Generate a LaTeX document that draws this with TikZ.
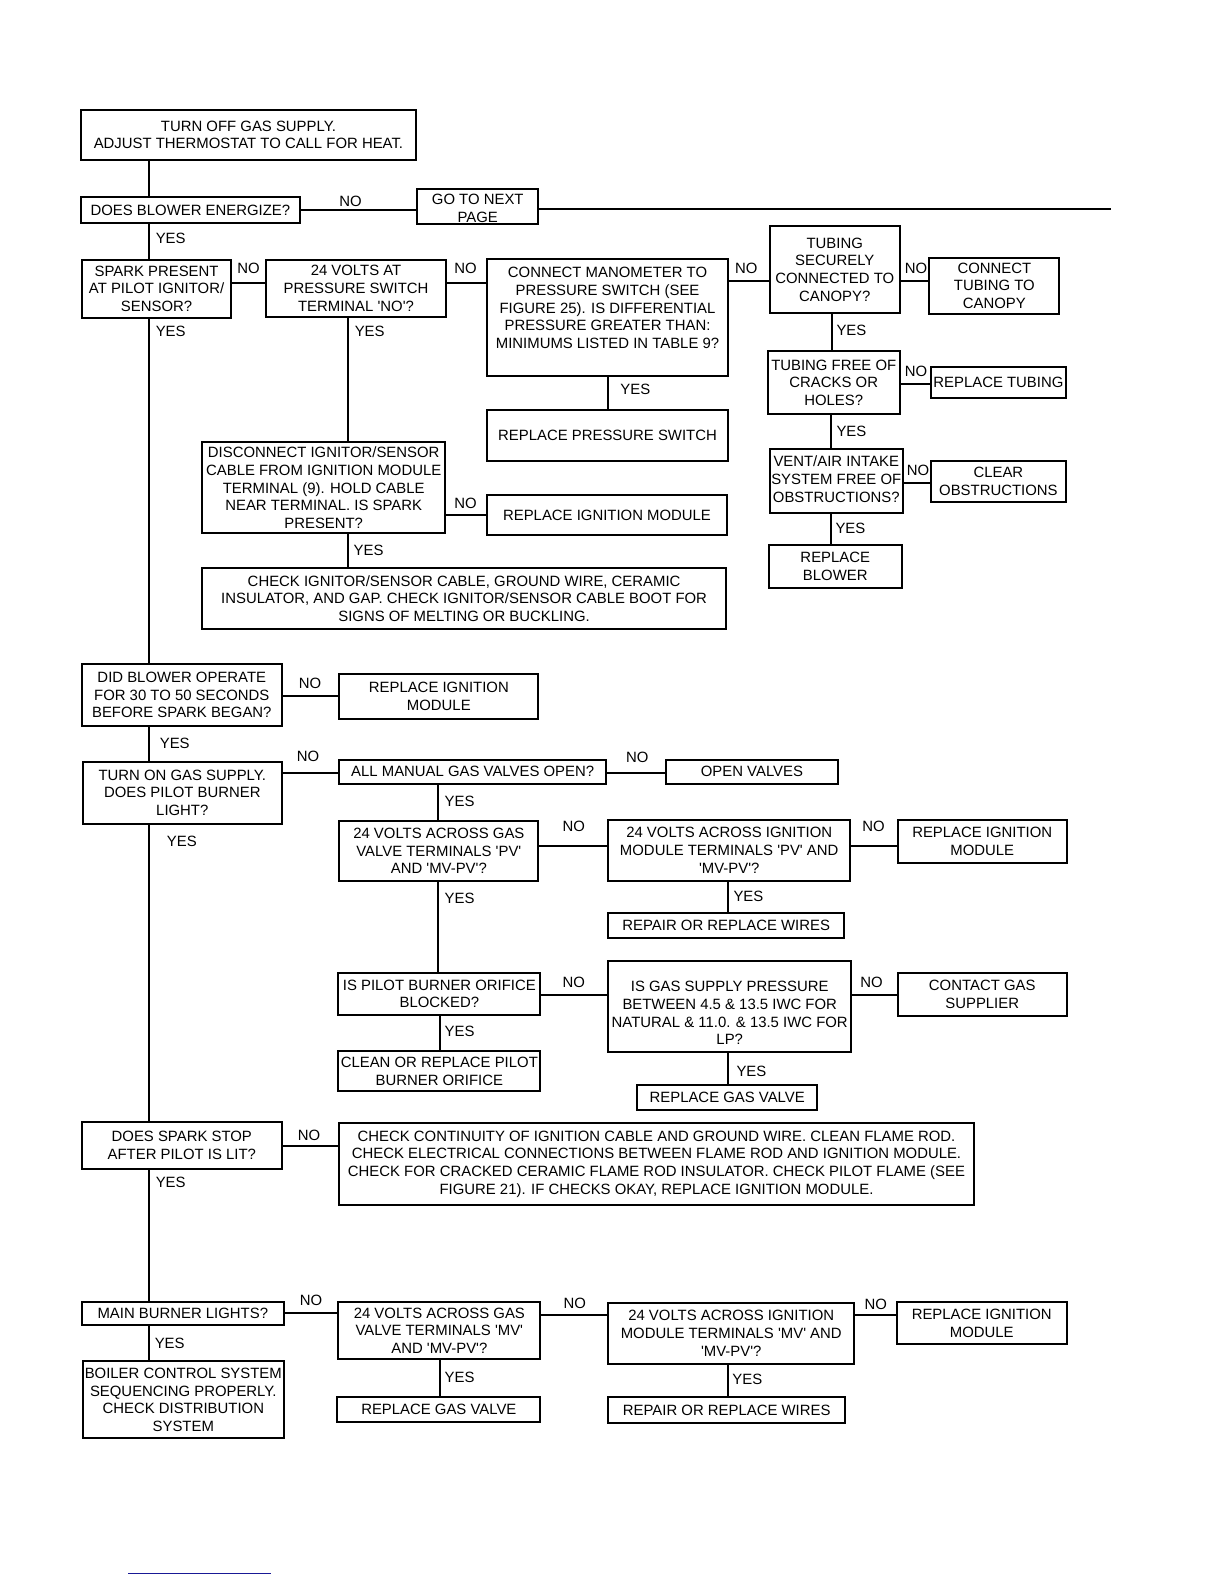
\documentclass[tikz,border=0pt]{standalone}
\usepackage{fontspec}
\setmainfont{Liberation Sans}
\usetikzlibrary{calc}
\newcommand\sqt{\textquotesingle}
\tikzset{
  box/.style={draw, line width=2pt, inner sep=0pt, outer sep=0pt, rectangle},
  txt/.style={align=center, inner sep=0pt, font=\fontsize{14.9}{17.7}\selectfont},
  lbl/.style={inner sep=0pt, font=\fontsize{14.9}{17.7}\selectfont},
  ln/.style={line width=2pt},
}
% #1 text shift (down), #2 name, #3 x1, #4 y1, #5 x2, #6 y2, #7 text
\newcommand\bx[7][0]{%
  \node[box, minimum width={1.01*(#5-#3)}, minimum height={1.01*(#6-#4)}] (#2) at ({(#3+#5)/2},{(#4+#6)/2}) {};
  \node[txt] (#2-t) at ({(#3+#5)/2},{(#4+#6)/2+(#1)}) {#7};
}
\begin{document}
\begin{tikzpicture}[x=1.01pt,y=-1.01pt]
\useasboundingbox (0,0) rectangle (1211.88,1568.32);

% boxes
\bx{start}{80}{109}{412}{158}{TURN OFF GAS SUPPLY.\\ADJUST THERMOSTAT TO CALL FOR HEAT.}
\bx{blower}{80}{195}{297}{221}{DOES BLOWER ENERGIZE?}
\bx[2]{next}{413}{187}{533}{222}{GO TO NEXT\\PAGE}
\bx{spark}{81}{257}{229}{315}{SPARK PRESENT\\AT PILOT IGNITOR/\\SENSOR?}
\bx{psw}{263}{257}{442}{314}{24 VOLTS AT\\PRESSURE SWITCH\\TERMINAL \sqt NO\sqt ?}
\bx[-9]{man}{482}{256}{721}{372}{CONNECT MANOMETER TO\\PRESSURE SWITCH (SEE\\FIGURE 25). IS DIFFERENTIAL\\PRESSURE GREATER THAN:\\MINIMUMS LISTED IN TABLE 9?}
\bx{tsec}{762}{224}{891}{310}{TUBING\\SECURELY\\CONNECTED TO\\CANOPY?}
\bx{ctub}{920}{255}{1049}{311}{CONNECT\\TUBING TO\\CANOPY}
\bx{tfree}{760}{348}{891}{410}{TUBING FREE OF\\CRACKS OR\\HOLES?}
\bx{rtub}{922}{363}{1055}{394}{REPLACE TUBING}
\bx[-2]{vent}{762}{445}{894}{508}{VENT/AIR INTAKE\\SYSTEM FREE OF\\OBSTRUCTIONS?}
\bx{clr}{922}{456}{1055}{497}{CLEAR\\OBSTRUCTIONS}
\bx{rblow}{761}{540}{893}{582}{REPLACE\\BLOWER}
\bx{rpsw}{482}{406}{721}{456}{REPLACE PRESSURE SWITCH}
\bx{disc}{200}{438}{441}{528}{DISCONNECT IGNITOR/SENSOR\\CABLE FROM IGNITION MODULE\\TERMINAL (9). HOLD CABLE\\NEAR TERMINAL. IS SPARK\\PRESENT?}
\bx{rimA}{482}{490}{720}{530}{REPLACE IGNITION MODULE}
\bx{chk}{200}{562}{719}{623}{CHECK IGNITOR/SENSOR CABLE, GROUND WIRE, CERAMIC\\INSULATOR, AND GAP. CHECK IGNITOR/SENSOR CABLE BOOT FOR\\SIGNS OF MELTING OR BUCKLING.}
\bx{did}{81}{657}{279}{719}{DID BLOWER OPERATE\\FOR 30 TO 50 SECONDS\\BEFORE SPARK BEGAN?}
\bx{rimB}{336}{667}{533}{712}{REPLACE IGNITION\\MODULE}
\bx{ton}{82}{754}{279}{816}{TURN ON GAS SUPPLY.\\DOES PILOT BURNER\\LIGHT?}
\bx{allm}{336}{752}{600}{776}{ALL MANUAL GAS VALVES OPEN?}
\bx{opv}{659}{752}{830}{776}{OPEN VALVES}
\bx{gpv}{336}{813}{533}{872}{24 VOLTS ACROSS GAS\\VALVE TERMINALS \sqt PV\sqt\\AND \sqt MV-PV\sqt ?}
\bx{ipv}{602}{812}{842}{872}{24 VOLTS ACROSS IGNITION\\MODULE TERMINALS \sqt PV\sqt{} AND\\\sqt MV-PV\sqt ?}
\bx{rimC}{889}{812}{1056}{854}{REPLACE IGNITION\\MODULE}
\bx{rwA}{602}{904}{836}{929}{REPAIR OR REPLACE WIRES}
\bx{orf}{335}{963}{535}{1005}{IS PILOT BURNER ORIFICE\\BLOCKED?}
\bx[6.5]{gsp}{602}{951}{843}{1042}{IS GAS SUPPLY PRESSURE\\BETWEEN 4.5 \& 13.5 IWC FOR\\NATURAL \& 11.0. \& 13.5 IWC FOR\\LP?}
\bx{cgs}{889}{963}{1056}{1006}{CONTACT GAS\\SUPPLIER}
\bx{corf}{335}{1041}{535}{1080}{CLEAN OR REPLACE PILOT\\BURNER ORIFICE}
\bx{rgvA}{631}{1074}{809}{1099}{REPLACE GAS VALVE}
\bx{dss}{81}{1111}{279}{1157}{DOES SPARK STOP\\AFTER PILOT IS LIT?}
\bx{cont}{336}{1112}{964}{1193}{CHECK CONTINUITY OF IGNITION CABLE AND GROUND WIRE. CLEAN FLAME ROD.\\CHECK ELECTRICAL CONNECTIONS BETWEEN FLAME ROD AND IGNITION MODULE.\\CHECK FOR CRACKED CERAMIC FLAME ROD INSULATOR. CHECK PILOT FLAME (SEE\\FIGURE 21). IF CHECKS OKAY, REPLACE IGNITION MODULE.}
\bx{mbl}{81}{1289}{281}{1312}{MAIN BURNER LIGHTS?}
\bx{gmv}{335}{1289}{535}{1346}{24 VOLTS ACROSS GAS\\VALVE TERMINALS \sqt MV\sqt\\AND \sqt MV-PV\sqt ?}
\bx{imv}{602}{1290}{846}{1350}{24 VOLTS ACROSS IGNITION\\MODULE TERMINALS \sqt MV\sqt{} AND\\\sqt MV-PV\sqt ?}
\bx{rimD}{888}{1289}{1056}{1331}{REPLACE IGNITION\\MODULE}
\bx{boil}{82}{1348}{281}{1424}{BOILER CONTROL SYSTEM\\SEQUENCING PROPERLY.\\CHECK DISTRIBUTION\\SYSTEM}
\bx{rgvB}{334}{1383}{535}{1408}{REPLACE GAS VALVE}
\bx{rwB}{602}{1383}{837}{1409}{REPAIR OR REPLACE WIRES}

% free end
\coordinate (nextend) at (1100,207);

% connectors
\draw[ln] (start.south -| 148,0) -- (blower.north -| 148,0);
\draw[ln] (blower.east |- 0,208) -- (next.west |- 0,208);
\draw[ln] (next.east |- 0,207) -- (nextend);
\draw[ln] (blower.south -| 148,0) -- (spark.north -| 148,0);
\draw[ln] (spark.east |- 0,280) -- (psw.west |- 0,280);
\draw[ln] (psw.east |- 0,280) -- (man.west |- 0,280);
\draw[ln] (man.east |- 0,278) -- (tsec.west |- 0,278);
\draw[ln] (tsec.east |- 0,278) -- (ctub.west |- 0,278);
\draw[ln] (tsec.south -| 824,0) -- (tfree.north -| 824,0);
\draw[ln] (tfree.east |- 0,380) -- (rtub.west |- 0,380);
\draw[ln] (tfree.south -| 823,0) -- (vent.north -| 823,0);
\draw[ln] (vent.east |- 0,478) -- (clr.west |- 0,478);
\draw[ln] (vent.south -| 823,0) -- (rblow.north -| 823,0);
\draw[ln] (man.south -| 602,0) -- (rpsw.north -| 602,0);
\draw[ln] (psw.south -| 345,0) -- (disc.north -| 345,0);
\draw[ln] (disc.east |- 0,510) -- (rimA.west |- 0,510);
\draw[ln] (disc.south -| 345,0) -- (chk.north -| 345,0);
\draw[ln] (spark.south -| 148,0) -- (did.north -| 148,0);
\draw[ln] (did.east |- 0,689) -- (rimB.west |- 0,689);
\draw[ln] (did.south -| 148,0) -- (ton.north -| 148,0);
\draw[ln] (ton.east |- 0,765) -- (allm.west |- 0,765);
\draw[ln] (allm.east |- 0,765) -- (opv.west |- 0,765);
\draw[ln] (allm.south -| 434,0) -- (gpv.north -| 434,0);
\draw[ln] (gpv.east |- 0,838) -- (ipv.west |- 0,838);
\draw[ln] (ipv.east |- 0,838) -- (rimC.west |- 0,838);
\draw[ln] (ipv.south -| 721,0) -- (rwA.north -| 721,0);
\draw[ln] (gpv.south -| 434,0) -- (orf.north -| 434,0);
\draw[ln] (orf.east |- 0,985) -- (gsp.west |- 0,985);
\draw[ln] (gsp.east |- 0,985) -- (cgs.west |- 0,985);
\draw[ln] (orf.south -| 436,0) -- (corf.north -| 436,0);
\draw[ln] (gsp.south -| 721,0) -- (rgvA.north -| 721,0);
\draw[ln] (ton.south -| 148,0) -- (dss.north -| 148,0);
\draw[ln] (dss.east |- 0,1135) -- (cont.west |- 0,1135);
\draw[ln] (dss.south -| 148,0) -- (mbl.north -| 148,0);
\draw[ln] (mbl.east |- 0,1300) -- (gmv.west |- 0,1300);
\draw[ln] (gmv.east |- 0,1302) -- (imv.west |- 0,1302);
\draw[ln] (imv.east |- 0,1302) -- (rimD.west |- 0,1302);
\draw[ln] (mbl.south -| 148,0) -- (boil.north -| 148,0);
\draw[ln] (gmv.south -| 436,0) -- (rgvB.north -| 436,0);
\draw[ln] (imv.south -| 721,0) -- (rwB.north -| 721,0);

% labels
\node[lbl] (n1) at (347,199) {NO};
\node[lbl] (y1) at (169,236) {YES};
\node[lbl] (n2) at (246,266) {NO};
\node[lbl] (n3) at (461,266) {NO};
\node[lbl] (n4) at (739,266) {NO};
\node[lbl] (n5) at (907,266) {NO};
\node[lbl] (y2) at (843,327) {YES};
\node[lbl] (n6) at (907,368) {NO};
\node[lbl] (y3) at (843,427) {YES};
\node[lbl] (n7) at (909,466) {NO};
\node[lbl] (y4) at (842,523) {YES};
\node[lbl] (y5) at (629,386) {YES};
\node[lbl] (y6) at (366,328) {YES};
\node[lbl] (n8) at (461,498) {NO};
\node[lbl] (y7) at (365,545) {YES};
\node[lbl] (y8) at (169,328) {YES};
\node[lbl] (n9) at (307,677) {NO};
\node[lbl] (y9) at (173,736) {YES};
\node[lbl] (n10) at (305,749) {NO};
\node[lbl] (n11) at (631,750) {NO};
\node[lbl] (y10) at (455,793) {YES};
\node[lbl] (n12) at (568,818) {NO};
\node[lbl] (n13) at (865,818) {NO};
\node[lbl] (y11) at (741,887) {YES};
\node[lbl] (y12) at (455,889) {YES};
\node[lbl] (n14) at (568,973) {NO};
\node[lbl] (n15) at (863,973) {NO};
\node[lbl] (y13) at (455,1021) {YES};
\node[lbl] (y14) at (744,1061) {YES};
\node[lbl] (y15) at (180,833) {YES};
\node[lbl] (n16) at (306,1124) {NO};
\node[lbl] (y16) at (169,1171) {YES};
\node[lbl] (n17) at (308,1287) {NO};
\node[lbl] (n18) at (569,1290) {NO};
\node[lbl] (n19) at (867,1291) {NO};
\node[lbl] (y17) at (168,1330) {YES};
\node[lbl] (y18) at (455,1364) {YES};
\node[lbl] (y19) at (740,1366) {YES};

% stray blue rule at the foot
\coordinate (bl1) at (127,1558);
\coordinate (bl2) at (268,1558);
\draw[line width=1.6pt, color={rgb,255:red,25;green,25;blue,150}] (bl1) -- (bl2);
\end{tikzpicture}
\end{document}
